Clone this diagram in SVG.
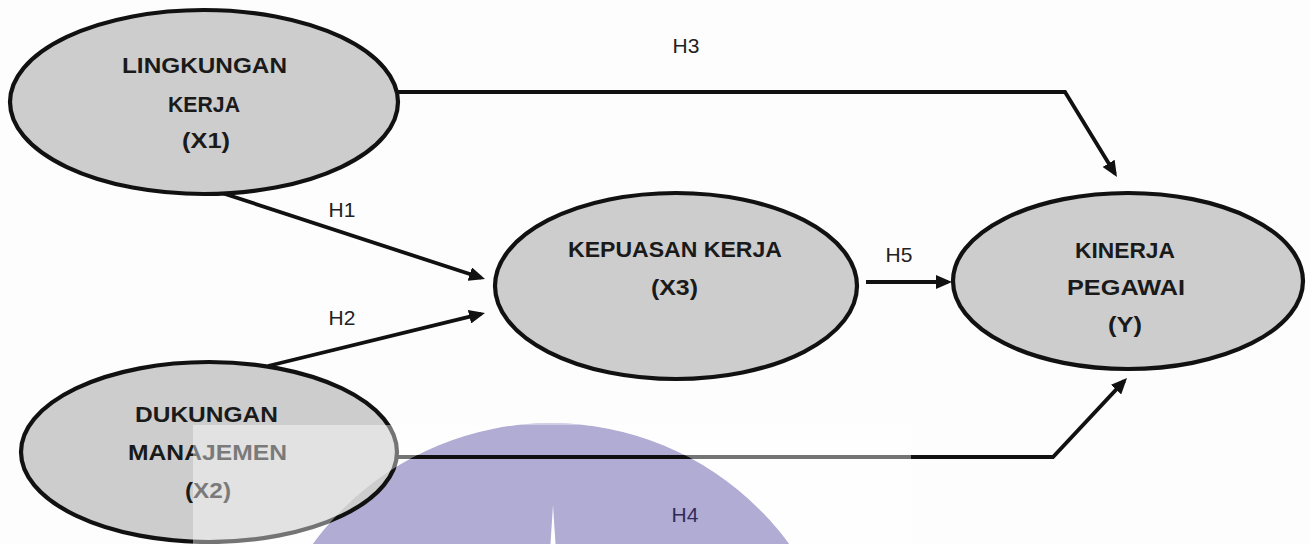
<svg xmlns="http://www.w3.org/2000/svg" width="1310" height="544" viewBox="0 0 1310 544">
<style>
.node{fill:#cdcdcd;stroke:#111;stroke-width:4.2}
.lbl{font-family:"Liberation Sans",Arial,sans-serif;font-weight:bold;font-size:21.5px;fill:#1a1a1a;text-anchor:middle}
.h{font-family:"Liberation Sans",Arial,sans-serif;font-size:21px;fill:#222;text-anchor:middle}
.edge{fill:none;stroke:#111;stroke-width:3.8;stroke-linejoin:miter}
</style>
<defs>
<marker id="arr" markerUnits="userSpaceOnUse" markerWidth="18" markerHeight="14" refX="12" refY="7" orient="auto">
<path d="M0,0 L16,7 L0,14 Z" fill="#111"/>
</marker>
</defs>
<rect width="1310" height="544" fill="#fdfdfd"/>
<g id="watermark">
<circle cx="551" cy="718" r="295" fill="#b1acd3"/>
</g>
<g id="connectors">
<path class="edge" d="M397,92 L1065,92 L1114.9,173.6" marker-end="url(#arr)"/>
<path class="edge" d="M222,193 L481.2,277.8" marker-end="url(#arr)"/>
<path class="edge" d="M268,366 L481.1,313.9" marker-end="url(#arr)"/>
<path class="edge" d="M866,282 L948,282" marker-end="url(#arr)"/>
<path class="edge" d="M397,457 L1053,457 L1124.3,380.9" marker-end="url(#arr)"/>
<text class="h" x="342" y="217">H1</text>
<text class="h" x="342" y="325">H2</text>
<text class="h" x="686" y="53">H3</text>
<text class="h" x="685" y="522" style="fill:#2e2b5a">H4</text>
<text class="h" x="899" y="262">H5</text>
</g>
<g id="x1">
<ellipse class="node" cx="204" cy="102" rx="194" ry="92"/>
<text class="lbl" x="204.5" y="73" textLength="165" lengthAdjust="spacingAndGlyphs">LINGKUNGAN</text>
<text class="lbl" x="204" y="112" textLength="72" lengthAdjust="spacingAndGlyphs">KERJA</text>
<text class="lbl" x="206" y="148" textLength="48" lengthAdjust="spacingAndGlyphs">(X1)</text>
</g>
<g id="x2">
<ellipse class="node" cx="209" cy="452" rx="188" ry="90"/>
<text class="lbl" x="206.5" y="422" textLength="143" lengthAdjust="spacingAndGlyphs">DUKUNGAN</text>
<text class="lbl" x="207.5" y="460" textLength="159" lengthAdjust="spacingAndGlyphs">MANAJEMEN</text>
<text class="lbl" x="208" y="498" textLength="46" lengthAdjust="spacingAndGlyphs">(X2)</text>
</g>
<g id="x3">
<ellipse class="node" cx="676" cy="286" rx="181" ry="93"/>
<text class="lbl" x="675" y="257" textLength="214" lengthAdjust="spacingAndGlyphs">KEPUASAN KERJA</text>
<text class="lbl" x="674.5" y="295" textLength="47" lengthAdjust="spacingAndGlyphs">(X3)</text>
</g>
<g id="y">
<ellipse class="node" cx="1128" cy="281" rx="175" ry="88"/>
<text class="lbl" x="1125" y="258" textLength="100" lengthAdjust="spacingAndGlyphs">KINERJA</text>
<text class="lbl" x="1126" y="295" textLength="118" lengthAdjust="spacingAndGlyphs">PEGAWAI</text>
<text class="lbl" x="1125" y="332" textLength="34" lengthAdjust="spacingAndGlyphs">(Y)</text>
</g>
<g id="overlay">
<path fill="#ffffff" fill-opacity="0.42" fill-rule="evenodd" d="M193,425 H911 V544 H193 Z M256,718 A295,295 0 1,0 846,718 A295,295 0 1,0 256,718 Z"/>
<polygon points="553,505 555.5,544 550.5,544" fill="#ffffff"/>
</g>
</svg>
